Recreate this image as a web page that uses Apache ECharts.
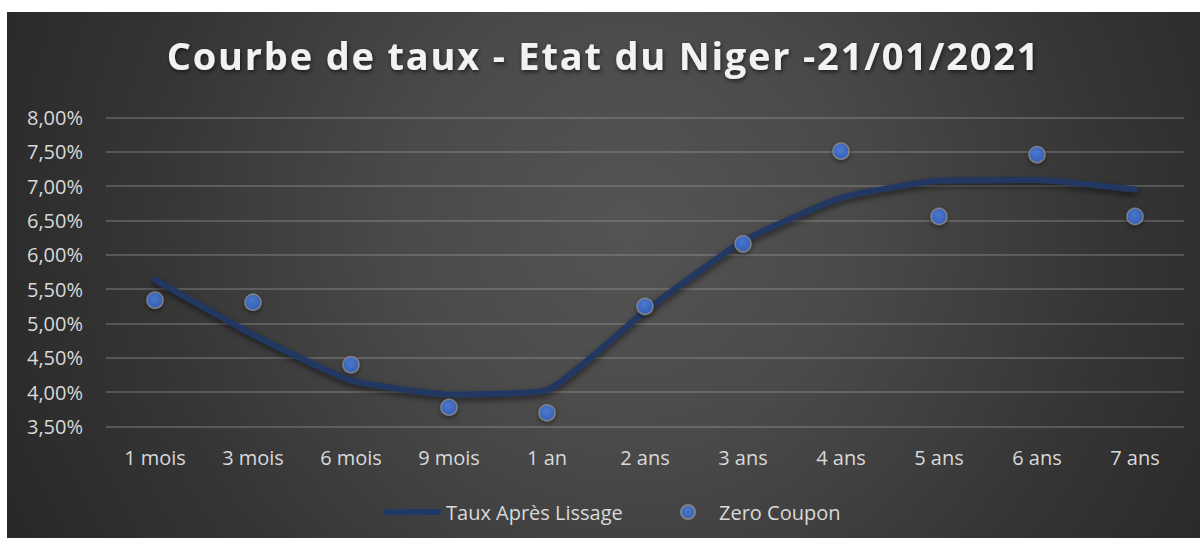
<!DOCTYPE html>
<html>
<head>
<meta charset="utf-8">
<script src="https://cdn.jsdelivr.net/npm/echarts@6/dist/echarts.min.js"></script>
<style>
html,body{margin:0;padding:0;background:#ffffff;width:1200px;height:538px;overflow:hidden;}
#chart{position:absolute;left:7px;top:12px;width:1193px;height:526px;
background:radial-gradient(ellipse 62% 140% at 52% 40%, #545454 0%, #4a4a4a 30%, #353535 65%, #252525 100%);}
</style>
</head>
<body>
<div id="chart"></div>
<script>
const categories = ['1 mois','3 mois','6 mois','9 mois','1 an','2 ans','3 ans','4 ans','5 ans','6 ans','7 ans'];
const tauxApresLissage = [5.64, 4.84, 4.17, 3.97, 4.03, 5.18, 6.20, 6.83, 7.08, 7.09, 6.95];
const zeroCoupon = [5.34, 5.31, 4.40, 3.78, 3.70, 5.25, 6.16, 7.51, 6.56, 7.46, 6.56];
const yMin = 3.5, yMax = 8.0, yStep = 0.5;
const titleText = 'Courbe de taux - Etat du Niger -21/01/2021';

const chart = echarts.init(document.getElementById('chart'), null, {renderer:'svg'});
const fontFam = '"Open Sans", "Noto Sans", sans-serif';
chart.setOption({
  backgroundColor: 'transparent',
  animation: false,
  title: {
    text: titleText,
    left: 'center',
    top: 19,
    padding: [5, 0, 5, 12],
    textStyle: {
      color: '#f2f2f2', fontSize: 38, fontWeight: 'bold', fontFamily: fontFam,
      textShadowColor: 'rgba(0,0,0,0.6)', textShadowBlur: 4, textShadowOffsetX: 1, textShadowOffsetY: 2
    }
  },
  grid: { left: 99, top: 105.5, width: 1078, height: 309, containLabel: false },
  legend: [
    {
      data: [{name: 'Taux Après Lissage', icon: 'roundRect'}],
      left: 372, top: 485,
      itemWidth: 57, itemHeight: 6,
      textStyle: {color: '#d9d9d9', fontSize: 20, fontFamily: fontFam}
    },
    {
      data: [{name: 'Zero Coupon', icon: 'circle'}],
      left: 668, top: 485,
      itemWidth: 14, itemHeight: 14,
      textStyle: {color: '#d9d9d9', fontSize: 20, fontFamily: fontFam, padding: [0,0,0,19]}
    }
  ],
  xAxis: {
    type: 'category',
    data: categories,
    boundaryGap: true,
    axisLine: {show: false},
    axisTick: {show: false},
    axisLabel: {color: '#d9d9d9', fontSize: 20, fontFamily: fontFam, margin: 21}
  },
  yAxis: {
    type: 'value',
    min: yMin, max: yMax, interval: yStep,
    axisLine: {show: false},
    axisTick: {show: false},
    splitLine: {lineStyle: {color: 'rgba(160,160,160,0.45)', width: 1.5}},
    axisLabel: {
      color: '#d9d9d9', fontSize: 20, fontFamily: fontFam, margin: 23,
      formatter: v => v.toFixed(2).replace('.', ',') + '%'
    }
  },
  series: [
    {
      name: 'Taux Après Lissage',
      type: 'line',
      data: tauxApresLissage,
      smooth: 0.15,
      symbol: 'none',
      lineStyle: {color: '#203864', width: 6, cap: 'round',
        shadowColor: 'rgba(0,0,0,0.55)', shadowBlur: 6, shadowOffsetY: 3},
      itemStyle: {color: '#203864'},
      z: 2
    },
    {
      name: 'Zero Coupon',
      type: 'scatter',
      data: zeroCoupon,
      symbolSize: 16,
      itemStyle: {
        color: {type: 'radial', x: 0.45, y: 0.4, r: 0.6, colorStops: [
          {offset: 0, color: '#4f86ea'}, {offset: 1, color: '#3768cf'}]},
        borderColor: '#8c8c8c', borderWidth: 1.5,
        shadowColor: 'rgba(0,0,0,0.5)', shadowBlur: 5, shadowOffsetY: 2
      },
      z: 3
    }
  ]
});
// widen the title's letter spacing like the reference
function spaceTitle() {
  document.querySelectorAll('#chart svg text').forEach(t => {
    if (t.textContent === titleText) t.setAttribute('letter-spacing', '1.8');
  });
}
spaceTitle();
chart.on('finished', spaceTitle);
</script>
</body>
</html>
